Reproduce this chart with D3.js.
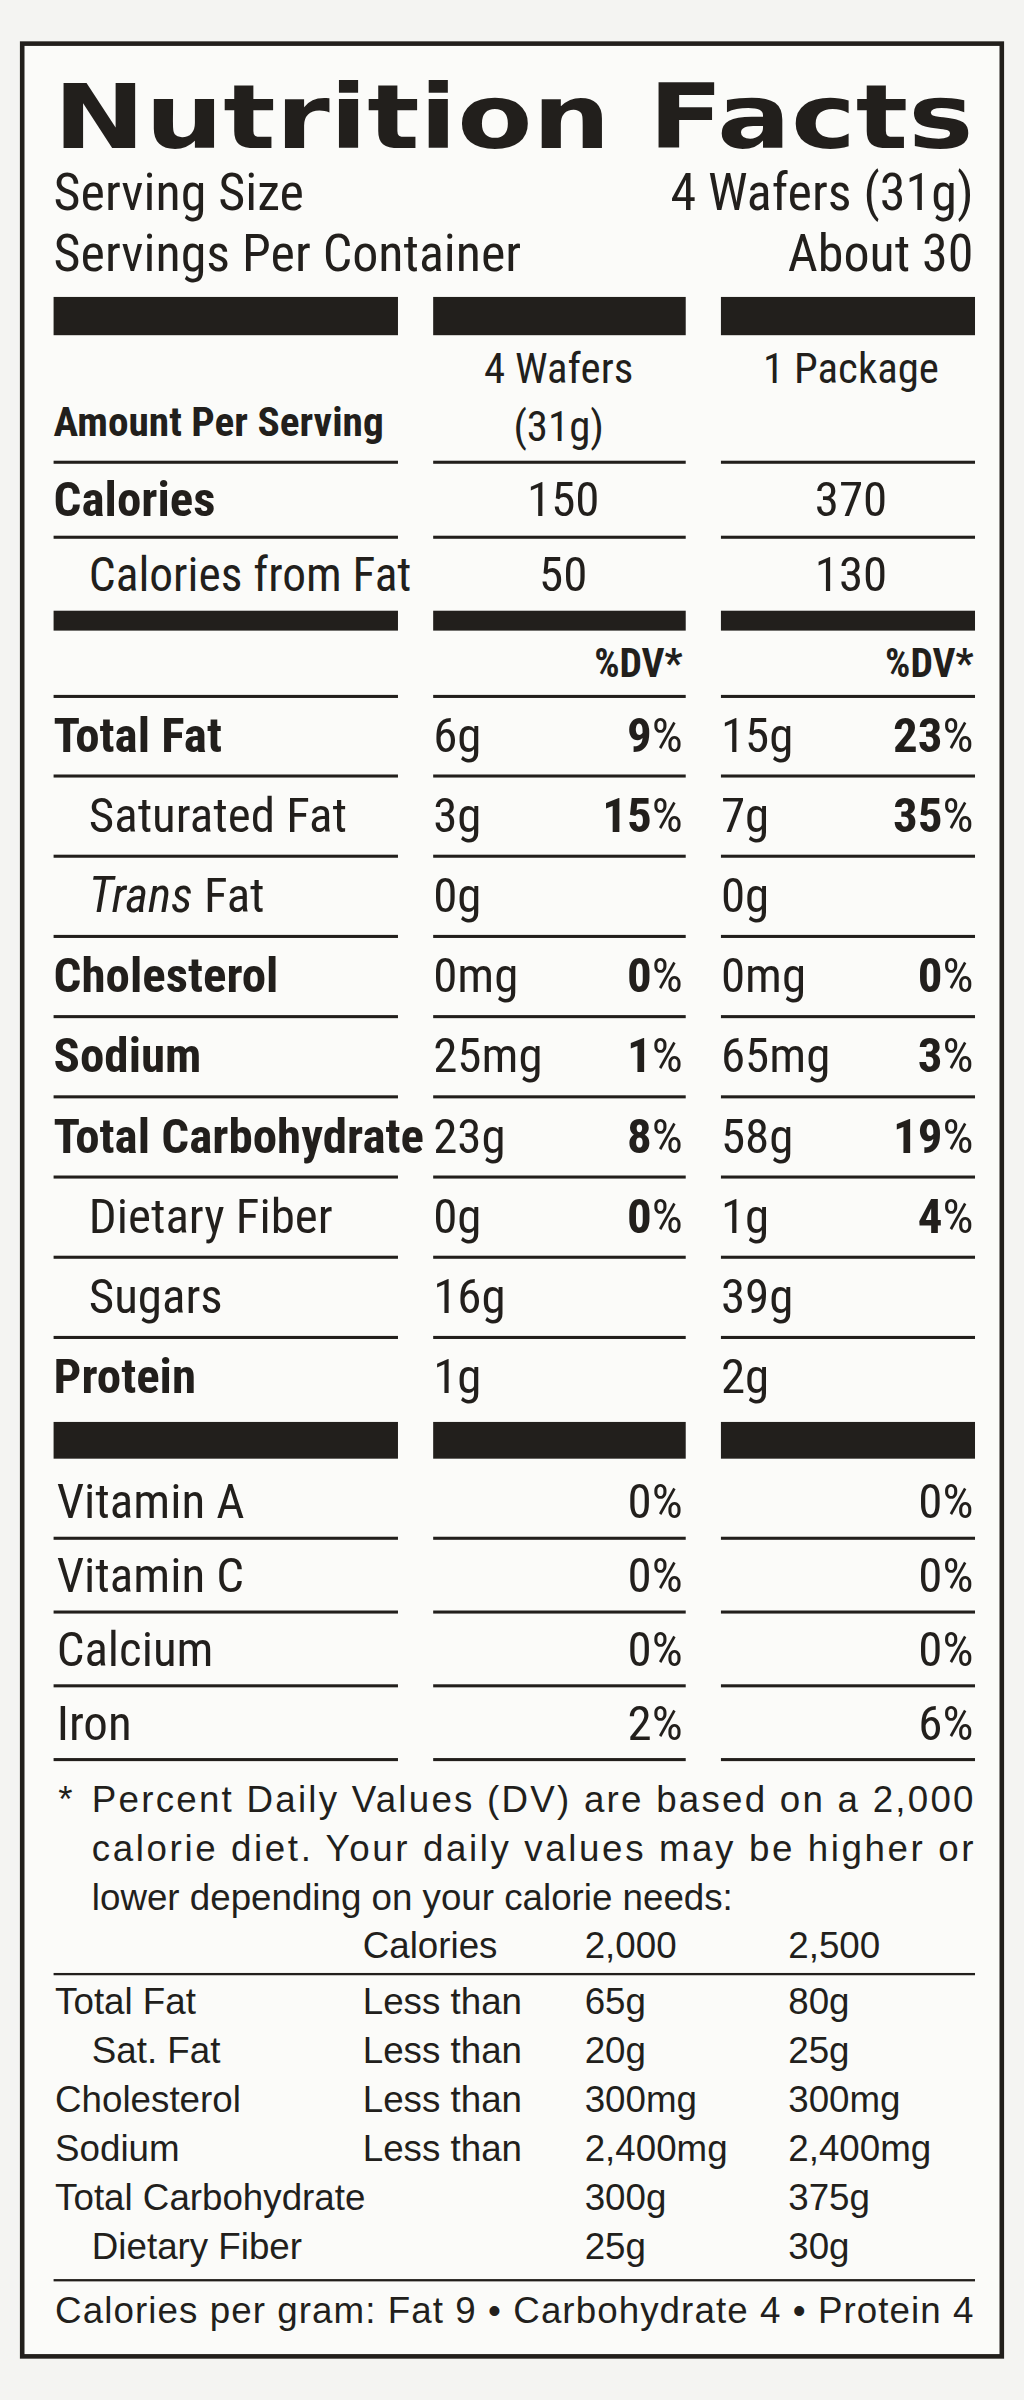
<!DOCTYPE html><html><head><meta charset="utf-8">
<script src="https://cdn.jsdelivr.net/npm/d3@7"></script>
<style>body{margin:0;background:#f4f4f2}</style></head><body>
<script>
const servingSize = "4 Wafers (31g)", servings = "About 30";
const nutrients = ["Total Fat","Saturated Fat","Trans Fat","Cholesterol","Sodium","Total Carbohydrate","Dietary Fiber","Sugars","Protein"];
const bold = [true,false,false,true,true,true,false,false,true];
const amt1 = ["6g","3g","0g","0mg","25mg","23g","0g","16g","1g"];
const dv1 = ["9%","15%","","0%","1%","8%","0%","",""];
const amt2 = ["15g","7g","0g","0mg","65mg","58g","1g","39g","2g"];
const dv2 = ["23%","35%","","0%","3%","19%","4%","",""];
const vitamins = ["Vitamin A","Vitamin C","Calcium","Iron"];
const vit1 = ["0%","0%","0%","2%"], vit2 = ["0%","0%","0%","6%"];
const calories = [150,370], calFat = [50,130];
const dvNames = ["Total Fat","Sat. Fat","Cholesterol","Sodium","Total Carbohydrate","Dietary Fiber"];
const dvQual = ["Less than","Less than","Less than","Less than","",""];
const dv2000 = ["65g","20g","300mg","2,400mg","300g","25g"];
const dv2500 = ["80g","25g","300mg","2,400mg","375g","30g"];

const ink="#221f1c", N="'Liberation Sans Narrow','Roboto Condensed',sans-serif", R="'Liberation Sans',Arial,sans-serif";
const svg=d3.select("body").append("svg").attr("width",1024).attr("height",2400).attr("viewBox","0 0 669 1568");
svg.append("rect").attr("width",669).attr("height",1568).attr("fill","#f4f4f2");
svg.append("rect").attr("x",14.5).attr("y",28.5).attr("width",640).attr("height",1511).attr("fill","#fbfbf9").attr("stroke",ink).attr("stroke-width",3);
function T(x,y,s,o={}){return svg.append("text").attr("x",x).attr("y",y).text(s).attr("fill",ink)
 .attr("font-family",o.f||N).attr("font-size",o.sz||30).attr("font-weight",o.b?"bold":"normal")
 .attr("font-style",o.i?"italic":"normal").attr("text-anchor",o.a||"start");}
const cols=[[35,260],[283,448],[471,637]];
function bar(y,h){cols.forEach(c=>svg.append("rect").attr("x",c[0]).attr("y",y).attr("width",c[1]-c[0]).attr("height",h).attr("fill",ink));}
function line(y){bar(y-1,2);}

T(35,97,"Nutrition Facts",{f:"'DejaVu Sans',sans-serif",sz:58,b:true}).attr("textLength",601).attr("lengthAdjust","spacingAndGlyphs");
T(35,137,"Serving Size",{sz:34}); T(636,137,servingSize,{sz:34,a:"end"});
T(35,177,"Servings Per Container",{sz:34}); T(636,177,servings,{sz:34,a:"end"});
bar(194,25);
T(365,250,"4 Wafers",{sz:28,a:"middle"}); T(365,288,"(31g)",{sz:28,a:"middle"});
T(556,250,"1 Package",{sz:28,a:"middle"});
T(35,285,"Amount Per Serving",{sz:27,b:true});
line(302);
T(35,337,"Calories",{b:true,sz:32});
calories.forEach((v,i)=>T(i?556:368,337,v,{a:"middle",sz:32}));
line(351);
T(58,386,"Calories from Fat",{sz:31});
calFat.forEach((v,i)=>T(i?556:368,386,v,{a:"middle",sz:32}));
bar(399,13);
T(446,442,"%DV*",{b:true,sz:26,a:"end"}); T(636,442,"%DV*",{b:true,sz:26,a:"end"});
line(455);
const y0=491, step=52.4;
nutrients.forEach((n,i)=>{
  const y=y0+i*step, ind=bold[i]?35:58;
  if(n==="Trans Fat"){const t=T(ind,y,"",{sz:32});t.append("tspan").attr("font-style","italic").text("Trans");t.append("tspan").text(" Fat");}
  else T(ind,y,n,{b:bold[i],sz:32});
  T(283,y,amt1[i],{sz:32}); T(471,y,amt2[i],{sz:32});
  if(dv1[i]){const t=T(446,y,"",{sz:32,a:"end"});t.append("tspan").attr("font-weight","bold").text(dv1[i].slice(0,-1));t.append("tspan").text("%");}
  if(dv2[i]){const t=T(636,y,"",{sz:32,a:"end"});t.append("tspan").attr("font-weight","bold").text(dv2[i].slice(0,-1));t.append("tspan").text("%");}
  if(i<nutrients.length-1) line(y+16);
});
bar(929,24);
vitamins.forEach((v,i)=>{const y=992+i*48.2;
  T(37,y,v,{sz:32}); T(446,y,vit1[i],{sz:32,a:"end"}); T(636,y,vit2[i],{sz:32,a:"end"}); line(y+13);});
const fn=["Percent Daily Values (DV) are based on a 2,000","calorie diet. Your daily values may be higher or","lower depending on your calorie needs:"];
T(38,1184,"*",{f:R,sz:24});
fn.forEach((s,i)=>{const t=T(60,1184+i*32,s,{f:R,sz:24}); if(i<2) t.attr("textLength",576).attr("lengthAdjust","spacing");});
T(237,1279,"Calories",{f:R,sz:24}); T(382,1279,"2,000",{f:R,sz:24}); T(515,1279,"2,500",{f:R,sz:24});
svg.append("rect").attr("x",35).attr("y",1289).attr("width",602).attr("height",1.5).attr("fill",ink);
dvNames.forEach((n,i)=>{const y=1316+i*32;
  T(n==="Sat. Fat"||n==="Dietary Fiber"?60:36,y,n,{f:R,sz:24});
  if(dvQual[i]) T(237,y,dvQual[i],{f:R,sz:24});
  T(382,y,dv2000[i],{f:R,sz:24}); T(515,y,dv2500[i],{f:R,sz:24});});
svg.append("rect").attr("x",35).attr("y",1489).attr("width",602).attr("height",1.5).attr("fill",ink);
T(36,1518,"Calories per gram: Fat 9 • Carbohydrate 4 • Protein 4",{f:R,sz:24}).attr("textLength",600).attr("lengthAdjust","spacing");
</script></body></html>
